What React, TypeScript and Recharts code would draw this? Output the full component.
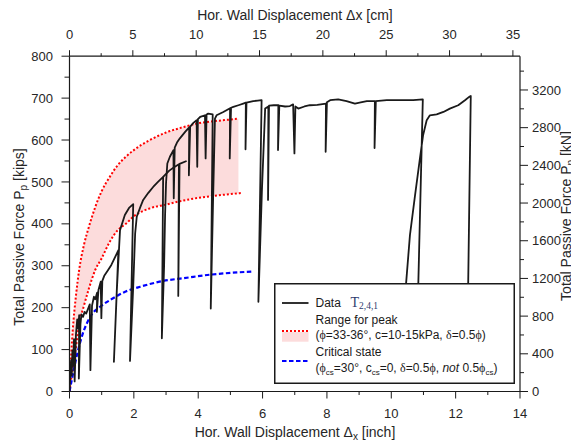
import React from "react";
import { ComposedChart, Line, Area, XAxis, YAxis, Legend } from "recharts";

// ---------- data ----------
// Measured load-displacement record (inch, kips)
const dataX = [
  0, 0.03, 0.05, 0.07, 0.09, 0.11, 0.14, 0.16, 0.2, 0.24,
  0.27, 0.3, 0.29, 0.34, 0.37, 0.42, 0.47, 0.52, 0.57, 0.63,
  0.65, 0.7, 0.76, 0.8, 0.86, 0.85, 0.9, 0.97, 0.99, 1.02,
  1.08, 1.2, 1.3, 1.45, 1.52, 1.38, 1.47, 1.57, 1.72, 1.85,
  1.98, 1.88, 1.98, 2.04, 2.09, 2.2, 2.29, 2.45, 2.6, 2.75,
  2.91, 2.87, 2.94, 2.97, 3.0, 3.04, 3.12, 3.23, 3.24, 3.27,
  3.34, 3.43, 3.6, 3.72, 3.71, 3.75, 3.85, 3.95, 3.97, 3.99,
  4.06, 4.21, 4.23, 4.26, 4.31, 4.45, 4.39, 4.46, 4.52, 4.57,
  4.78, 4.99, 4.98, 5.02, 5.09, 5.25, 5.4, 5.48, 5.47, 5.5,
  5.71, 5.85, 5.97, 5.87, 5.98, 6.08, 6.18, 6.17, 6.2, 6.35,
  6.49, 6.48, 6.52, 6.7, 6.85, 6.95, 6.99, 7.02, 7.11, 7.3,
  7.47, 7.7, 7.97, 7.96, 8.0, 8.1, 8.35, 8.61, 8.87, 9.05,
  9.24, 9.49, 9.48, 9.52, 9.86, 10.27, 10.68, 10.98, 10.84, 10.78,
  10.3, 10.46, 10.58, 10.74, 10.89, 10.99, 11.1, 11.2, 11.41, 11.62,
  11.82, 12.08, 12.29, 12.42, 12.47, 12.39, 12.35,
];
const dataP = [
  0, 42, 75, 38, 98, 62, 125, 24, 135, 172,
  150, 182, 31, 160, 184, 178, 190, 186, 196, 208,
  51, 205, 226, 220, 236, 190, 242, 262, 175, 264,
  276, 290, 302, 326, 337, 71, 240, 385, 421, 438,
  447, 73, 250, 377, 417, 440, 457, 474, 488, 500,
  512, 127, 300, 420, 497, 544, 560, 576, 461, 582,
  594, 604, 620, 630, 516, 632, 641, 647, 536, 650,
  655, 659, 556, 661, 663, 661, 198, 450, 651, 659,
  667, 676, 556, 677, 679, 683, 687, 689, 578, 689,
  693, 694, 695, 214, 480, 675, 680, 457, 682, 683,
  683, 576, 682, 680, 681, 685, 568, 680, 675, 680,
  683, 684, 687, 572, 690, 695, 697, 693, 687, 690,
  693, 693, 581, 693, 695, 695, 695, 697, 258, 40,
  40, 258, 373, 469, 556, 612, 647, 659, 661, 667,
  675, 683, 695, 703, 705, 258, 40,
];
// secondary loading branch of the record
const branchX = [2.91, 3.1, 3.25, 3.4, 3.38, 3.42, 3.64];
const branchP = [512, 527, 535, 542, 228, 543, 550];

// Range for peak (upper / lower bound)
const peakX = [0, 0.05, 0.1, 0.2, 0.3, 0.45, 0.6, 0.8, 1.0, 1.25, 1.5, 1.75, 2.0, 2.5, 3.0, 3.5, 4.0, 4.5, 5.0, 5.25];
const peakHigh = [0, 85, 145, 228, 290, 350, 392, 440, 478, 512, 540, 560, 576, 600, 618, 630, 640, 645, 649, 651];
const peakLow = [0, 28, 56, 105, 160, 205, 245, 290, 318, 357, 385, 400, 418, 437, 446, 455, 462, 467, 471, 473];
const lowTailX = [5.38];
const lowTailP = [474];

// Critical state
const csX = [0, 0.09, 0.24, 0.4, 0.66, 1.0, 1.3, 1.7, 2.2, 2.8, 3.7, 4.4, 5.0, 5.65];
const csP = [0, 35, 90, 135, 180, 205, 220, 237, 250, 262, 272, 279, 283, 286];

// axes
const inchTicks = [0, 1, 2, 3, 4, 5, 6, 7, 8, 9, 10, 11, 12, 13, 14];
const cmTicks = [0, 2.5, 5, 7.5, 10, 12.5, 15, 17.5, 20, 22.5, 25, 27.5, 30, 32.5, 35];
const kipsTicks = [0, 50, 100, 150, 200, 250, 300, 350, 400, 450, 500, 550, 600, 650, 700, 750, 800];
const kNTicks = [0, 200, 400, 600, 800, 1000, 1200, 1400, 1600, 1800, 2000, 2200, 2400, 2600, 2800, 3000, 3200, 3400];
const inchMajor = 2;
const cmMajor = 5;
const kipsMajor = 100;
const kNMajor = 400;
const IN_MAX = 14;
const CM_PER_IN = 2.54;
const KIPS_MAX = 800;
const KN_PER_KIP = 4.448;

// ---------- build series ----------
const blackData = dataX.map((x, i) => ({ x, p: dataP[i] }));
const branchData = branchX.map((x, i) => ({ x, p: branchP[i] }));
const peakData = peakX.map((x, i) => ({ x, band: [peakLow[i], peakHigh[i]], hi: peakHigh[i] }));
const lowData = [...peakX, ...lowTailX].map((x, i) => ({ x, p: i < peakLow.length ? peakLow[i] : lowTailP[i - peakLow.length] }));
const csData = csX.map((x, i) => ({ x, p: csP[i] }));

// ---------- styling ----------
const W = 571;
const H = 434;
const FONT = "Arial, 'Liberation Sans', Helvetica, sans-serif";
const SERIF = "'Times New Roman', 'Liberation Serif', serif";
const INK = "#1a1a1a";
const TXT = "#262626";
const PINK = "#fcdcdc";
const TICK_FS = 13;
const TITLE_FS = 14;
const isMajor = (v: number, step: number) => Math.abs(v / step - Math.round(v / step)) < 1e-6;

const BottomTick = (props: any) => {
  const { x, y, payload } = props;
  const major = isMajor(payload.value, inchMajor);
  return (
    <g>
      <line x1={x} x2={x} y1={y} y2={y + (major ? 7 : 3.5)} stroke={INK} strokeWidth={1} />
      {major && (
        <text x={x} y={y + 26.6} textAnchor="middle" fontSize={TICK_FS} fontFamily={FONT} fill={TXT}>
          {payload.value}
        </text>
      )}
    </g>
  );
};
const TopTick = (props: any) => {
  const { x, y, payload } = props;
  const major = isMajor(payload.value, cmMajor);
  return (
    <g>
      <line x1={x} x2={x} y1={y} y2={y - (major ? 6 : 3)} stroke={INK} strokeWidth={1} />
      {major && (
        <text x={x} y={y - 17.4} textAnchor="middle" fontSize={TICK_FS} fontFamily={FONT} fill={TXT}>
          {payload.value}
        </text>
      )}
    </g>
  );
};
const LeftTick = (props: any) => {
  const { x, y, payload } = props;
  const major = isMajor(payload.value, kipsMajor);
  return (
    <g>
      <line x1={x - (major ? 8 : 5)} x2={x} y1={y} y2={y} stroke={INK} strokeWidth={1} />
      {major && (
        <text x={x - 16.5} y={y + 4.6} textAnchor="end" fontSize={TICK_FS} fontFamily={FONT} fill={TXT}>
          {payload.value}
        </text>
      )}
    </g>
  );
};
const RightTick = (props: any) => {
  const { x, y, payload } = props;
  const major = isMajor(payload.value, kNMajor);
  return (
    <g>
      <line x1={x} x2={x + (major ? 8 : 4)} y1={y} y2={y} stroke={INK} strokeWidth={1} />
      {major && (
        <text x={x + 12} y={y + 4.6} textAnchor="start" fontSize={TICK_FS} fontFamily={FONT} fill={TXT}>
          {payload.value}
        </text>
      )}
    </g>
  );
};

const titleProps = { fontSize: TITLE_FS, fontFamily: FONT, fill: TXT };

const bottomTitle = () => (
  <text x={287} y={428.7} textAnchor="middle" {...titleProps}>
    Hor. Wall Displacement Δ<tspan fontSize={10} dy={3}>x</tspan>
    <tspan dy={-3}> [inch]</tspan>
  </text>
);
const topTitle = () => (
  <text x={287} y={12} textAnchor="middle" {...titleProps}>
    Hor. Wall Displacement Δx [cm]
  </text>
);
const leftTitle = () => (
  <text x={16} y={229} transform="rotate(-90, 16, 229)" textAnchor="middle" {...titleProps}>
    Total Passive Force P<tspan fontSize={10} dy={3}>p</tspan>
    <tspan dy={-3}> [kips]</tspan>
  </text>
);
const rightTitle = () => (
  <text x={563} y={208} transform="rotate(-90, 563, 208)" textAnchor="middle" {...titleProps}>
    Total Passive Force P<tspan fontSize={10} dy={3}>p</tspan>
    <tspan dy={-3}> [kN]</tspan>
  </text>
);

const LG = { fontSize: 12, fontFamily: FONT, fill: INK };
const LegendBox = () => (
  <svg width={241} height={101} style={{ display: "block" }}>
    <rect x={0.75} y={0.75} width={239.5} height={99.5} fill="#fff" stroke={INK} strokeWidth={1.5} />
    <line x1={8} x2={34.5} y1={20} y2={20} stroke={INK} strokeWidth={1.8} />
    <text x={41.5} y={23.8} {...LG}>Data</text>
    <text x={76.5} y={23.8} fontFamily={SERIF} fontSize={14} fill="#2e3b6e">
      T<tspan fontSize={9.5} dy={2}>2,4,1</tspan>
    </text>
    <text x={41.5} y={40.6} {...LG}>Range for peak</text>
    <rect x={8} y={49} width={26.5} height={9.7} fill={PINK} />
    <line x1={8} x2={34.5} y1={48} y2={48} stroke="#ff0000" strokeWidth={2} strokeDasharray="2 2" />
    <text x={41.5} y={56.3} {...LG}>
      (<tspan fontFamily={SERIF}>ϕ</tspan>=33-36°, c=10-15kPa, <tspan fontFamily={SERIF}>δ</tspan>=0.5
      <tspan fontFamily={SERIF}>ϕ</tspan>)
    </text>
    <text x={41.5} y={73} {...LG}>Critical state</text>
    <line x1={8} x2={34.5} y1={78} y2={78} stroke="#0000ff" strokeWidth={2.2} strokeDasharray="4.5 2.5" />
    <text x={41.5} y={89} {...LG}>
      (<tspan fontFamily={SERIF}>ϕ</tspan>
      <tspan fontSize={8} dy={2.5}>cs</tspan>
      <tspan dy={-2.5}>=30°, c</tspan>
      <tspan fontSize={8} dy={2.5}>cs</tspan>
      <tspan dy={-2.5}>=0, </tspan>
      <tspan fontFamily={SERIF}>δ</tspan>=0.5<tspan fontFamily={SERIF}>ϕ</tspan>,{" "}
      <tspan fontStyle="italic">not</tspan> 0.5<tspan fontFamily={SERIF}>ϕ</tspan>
      <tspan fontSize={8} dy={2.5}>cs</tspan>
      <tspan dy={-2.5}>)</tspan>
    </text>
  </svg>
);

export default function App() {
  return (
    <div style={{ width: W, height: H }}>
      <ComposedChart width={W} height={H} margin={{ top: 18.2, right: 19, bottom: 20.5, left: 21.5 }}>
        <XAxis
          xAxisId="in"
          dataKey="x"
          type="number"
          orientation="bottom"
          domain={[0, IN_MAX]}
          ticks={inchTicks}
          interval={0}
          allowDataOverflow
          height={30}
          tickSize={0}
          tickMargin={0}
          tickLine={false}
          axisLine={{ stroke: INK, strokeWidth: 1.2 }}
          tick={BottomTick}
          label={bottomTitle}
        />
        <XAxis
          xAxisId="cm"
          dataKey="cm"
          type="number"
          orientation="top"
          domain={[0, IN_MAX * CM_PER_IN]}
          ticks={cmTicks}
          interval={0}
          allowDataOverflow
          height={30}
          tickSize={0}
          tickMargin={0}
          tickLine={false}
          axisLine={{ stroke: INK, strokeWidth: 1.2 }}
          tick={TopTick}
          label={topTitle}
        />
        <YAxis
          yAxisId="kips"
          type="number"
          orientation="left"
          domain={[0, KIPS_MAX]}
          ticks={kipsTicks}
          interval={0}
          allowDataOverflow
          width={40}
          tickSize={0}
          tickMargin={0}
          tickLine={false}
          axisLine={{ stroke: INK, strokeWidth: 1.2 }}
          tick={LeftTick}
          label={leftTitle}
        />
        <YAxis
          yAxisId="kN"
          type="number"
          orientation="right"
          domain={[0, KIPS_MAX * KN_PER_KIP]}
          ticks={kNTicks}
          interval={0}
          allowDataOverflow
          width={40}
          tickSize={0}
          tickMargin={0}
          tickLine={false}
          axisLine={{ stroke: INK, strokeWidth: 1.2 }}
          tick={RightTick}
          label={rightTitle}
        />
        <Area
          data={peakData}
          dataKey="band"
          xAxisId="in"
          yAxisId="kips"
          type="monotone"
          fill={PINK}
          fillOpacity={1}
          stroke="none"
          isAnimationActive={false}
          activeDot={false}
        />
        <Line
          data={peakData}
          dataKey="hi"
          xAxisId="in"
          yAxisId="kips"
          type="monotone"
          stroke="#ff0000"
          strokeWidth={2}
          strokeDasharray="2 2"
          dot={false}
          activeDot={false}
          isAnimationActive={false}
        />
        <Line
          data={lowData}
          dataKey="p"
          xAxisId="in"
          yAxisId="kips"
          type="monotone"
          stroke="#ff0000"
          strokeWidth={2}
          strokeDasharray="2 2"
          dot={false}
          activeDot={false}
          isAnimationActive={false}
        />
        <Line
          data={csData}
          dataKey="p"
          xAxisId="in"
          yAxisId="kips"
          type="monotone"
          stroke="#0000ff"
          strokeWidth={2.2}
          strokeDasharray="4.5 2.5"
          dot={false}
          activeDot={false}
          isAnimationActive={false}
        />
        <Line
          data={branchData}
          dataKey="p"
          xAxisId="in"
          yAxisId="kips"
          type="linear"
          stroke={INK}
          strokeWidth={1.8}
          strokeLinejoin="round"
          dot={false}
          activeDot={false}
          isAnimationActive={false}
        />
        <Line
          data={blackData}
          dataKey="p"
          xAxisId="in"
          yAxisId="kips"
          type="linear"
          stroke={INK}
          strokeWidth={1.8}
          strokeLinejoin="round"
          dot={false}
          activeDot={false}
          isAnimationActive={false}
        />
        <Legend
          layout="horizontal"
          align="center"
          verticalAlign="middle"
          content={() => <LegendBox />}
          wrapperStyle={{ left: 265.5, top: 275, width: 241, height: 101 }}
        />
      </ComposedChart>
    </div>
  );
}
